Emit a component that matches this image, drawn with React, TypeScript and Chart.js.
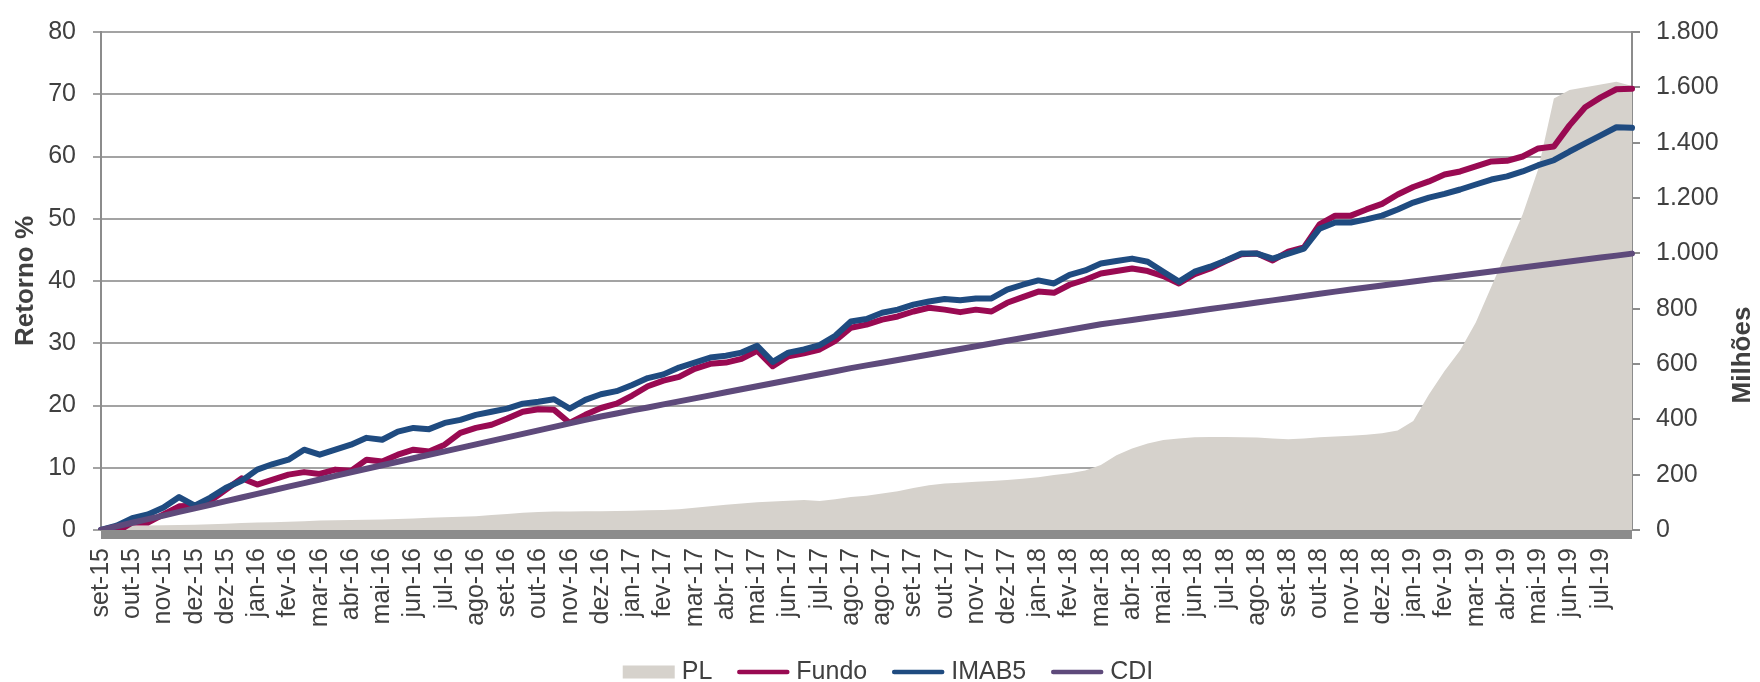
import React, { useEffect, useRef } from 'react';
import { Chart, registerables } from 'chart.js';

Chart.register(...registerables);

// Month tick labels (one per ~21 business days, as in the source)
const monthLabels = [
  'set-15', 'out-15', 'nov-15', 'dez-15', 'dez-15',
  'jan-16', 'fev-16', 'mar-16', 'abr-16', 'mai-16', 'jun-16', 'jul-16', 'ago-16', 'set-16', 'out-16', 'nov-16', 'dez-16',
  'jan-17', 'fev-17', 'mar-17', 'abr-17', 'mai-17', 'jun-17', 'jul-17', 'ago-17', 'ago-17', 'set-17', 'out-17', 'nov-17', 'dez-17',
  'jan-18', 'fev-18', 'mar-18', 'abr-18', 'mai-18', 'jun-18', 'jul-18', 'ago-18', 'set-18', 'out-18', 'nov-18', 'dez-18',
  'jan-19', 'fev-19', 'mar-19', 'abr-19', 'mai-19', 'jun-19', 'jul-19',
];

// Two observations per label interval (99 points)
const fundoValues = [
  0, -0.3, 1.2, 1.2, 2.5, 3.8, 3.9, 4.7, 6.5, 8.3,
  7.3, 8.1, 8.9, 9.3, 9.0, 9.7, 9.5, 11.3, 11.0, 12.1,
  12.9, 12.6, 13.7, 15.6, 16.4, 16.9, 17.9, 19.0, 19.4, 19.3,
  17.2, 18.5, 19.6, 20.3, 21.6, 23.1, 24.0, 24.6, 25.9, 26.7,
  26.9, 27.5, 28.8, 26.3, 27.9, 28.4, 29.0, 30.4, 32.5, 33.0,
  33.8, 34.3, 35.1, 35.7, 35.4, 35.0, 35.4, 35.1, 36.5, 37.4,
  38.3, 38.1, 39.4, 40.2, 41.2, 41.6, 42.0, 41.6, 40.8, 39.6,
  41.1, 42.0, 43.2, 44.3, 44.4, 43.3, 44.7, 45.4, 49.1, 50.5,
  50.5, 51.5, 52.4, 53.9, 55.1, 56.0, 57.1, 57.6, 58.4, 59.2,
  59.3, 60.0, 61.3, 61.6, 65.0, 67.9, 69.5, 70.8, 70.9,
];

const imab5Values = [
  0, 0.7, 1.9, 2.5, 3.6, 5.3, 3.9, 5.2, 6.8, 7.9,
  9.7, 10.6, 11.3, 12.9, 12.1, 12.9, 13.7, 14.8, 14.5, 15.8,
  16.4, 16.2, 17.2, 17.7, 18.5, 19.0, 19.5, 20.3, 20.6, 21.0,
  19.5, 20.9, 21.8, 22.3, 23.3, 24.4, 25.0, 26.1, 26.9, 27.7,
  28.0, 28.5, 29.6, 27.0, 28.5, 29.0, 29.7, 31.2, 33.5, 33.9,
  34.9, 35.4, 36.2, 36.7, 37.1, 36.9, 37.2, 37.2, 38.6, 39.4,
  40.1, 39.6, 41.0, 41.7, 42.8, 43.2, 43.6, 43.1, 41.5, 39.9,
  41.5, 42.3, 43.3, 44.4, 44.4, 43.6, 44.4, 45.2, 48.4, 49.4,
  49.4, 49.9, 50.5, 51.5, 52.6, 53.4, 54.0, 54.7, 55.5, 56.3,
  56.8, 57.6, 58.6, 59.4, 60.8, 62.1, 63.4, 64.7, 64.6,
];

const cdiValues = [
  0, 0.58, 1.16, 1.74, 2.32, 2.9, 3.48, 4.06, 4.64, 5.22,
  5.8, 6.38, 6.96, 7.54, 8.12, 8.7, 9.28, 9.84, 10.4, 10.96,
  11.52, 12.08, 12.64, 13.2, 13.76, 14.32, 14.88, 15.44, 16.0, 16.56,
  17.12, 17.68, 18.24, 18.72, 19.21, 19.69, 20.18, 20.66, 21.15, 21.63,
  22.12, 22.6, 23.09, 23.57, 24.06, 24.54, 25.03, 25.51, 26.0, 26.44,
  26.88, 27.32, 27.76, 28.2, 28.64, 29.08, 29.52, 29.96, 30.4, 30.84,
  31.28, 31.72, 32.16, 32.6, 33.04, 33.39, 33.74, 34.09, 34.44, 34.79,
  35.14, 35.49, 35.84, 36.19, 36.54, 36.89, 37.24, 37.59, 37.94, 38.29,
  38.64, 38.96, 39.28, 39.6, 39.92, 40.24, 40.56, 40.88, 41.2, 41.52,
  41.84, 42.16, 42.48, 42.8, 43.12, 43.44, 43.76, 44.08, 44.4,
];

// PL in millions (right axis)
const plValues = [
  3, 4, 16, 16, 17, 18, 19, 21, 23, 25,
  27, 28, 30, 32, 34, 35, 36, 37, 38, 40,
  42, 44, 46, 48, 50, 54, 58, 62, 65, 67,
  67, 68, 68, 69, 70, 71, 72, 75, 80, 86,
  91, 96, 100, 103, 106, 108, 105, 111, 119, 124,
  132, 140, 152, 162, 168, 171, 174, 177, 181, 185,
  191, 199, 205, 215, 235, 270, 295, 313, 325, 331,
  335, 336, 336, 335, 334, 331, 328, 331, 335, 338,
  341, 344, 350, 360, 394, 490, 575, 650, 750, 880,
  1010, 1140, 1305, 1560, 1590, 1600, 1610, 1620, 1605,
];

const FONT = "'Liberation Sans', Arial, Helvetica, sans-serif";
const TEXT = '#404040';
const GRID = '#a3a3a3';
const AXIS = '#8c8c8c';
const COLORS = { PL: '#d6d2cc', Fundo: '#990a52', IMAB5: '#1f4b80', CDI: '#5e4a7b' };

const fmtThousands = (v: number) => String(v).replace(/\B(?=(\d{3})+(?!\d))/g, '.');

const bandPlugin = {
  id: 'axisBand',
  beforeDatasetsDraw(chart: any) {
    const { ctx, chartArea } = chart;
    ctx.save();
    ctx.fillStyle = AXIS;
    ctx.fillRect(chartArea.left, chartArea.bottom, chartArea.right - chartArea.left, 9);
    ctx.restore();
  },
};

const textPlugin = {
  id: 'titlesLegend',
  afterDraw(chart: any) {
    const { ctx, chartArea } = chart;
    ctx.save();
    ctx.fillStyle = TEXT;
    ctx.font = `bold 26px ${FONT}`;
    ctx.textAlign = 'center';
    ctx.textBaseline = 'middle';
    // left title
    ctx.save();
    ctx.translate(26, (chartArea.top + chartArea.bottom) / 2);
    ctx.rotate(-Math.PI / 2);
    ctx.fillText('Retorno %', 0, 0);
    ctx.restore();
    // right title
    ctx.save();
    ctx.translate(chartArea.right + 111, chartArea.top + 323);
    ctx.rotate(-Math.PI / 2);
    ctx.fillText('Milhões', 0, 0);
    ctx.restore();

    // legend
    ctx.font = `25px ${FONT}`;
    ctx.textAlign = 'left';
    const symW = 52;
    const gap = 7;
    const spacing = 25;
    const items = chart.data.datasets.map((ds: any) => ({
      text: ds.label,
      fill: !!ds.fill,
      color: ds.fill ? ds.backgroundColor : ds.borderColor,
      w: symW + gap + ctx.measureText(ds.label).width,
    }));
    const total = items.reduce((a: number, it: any) => a + it.w, 0) + spacing * (items.length - 1);
    let x = 888 - total / 2;
    const y = 672;
    items.forEach((it: any) => {
      if (it.fill) {
        ctx.fillStyle = it.color;
        ctx.fillRect(x, y - 6.5, symW, 13);
      } else {
        ctx.strokeStyle = it.color;
        ctx.lineWidth = 4.5;
        ctx.lineCap = 'round';
        ctx.beginPath();
        ctx.moveTo(x + 2, y);
        ctx.lineTo(x + symW - 2, y);
        ctx.stroke();
      }
      ctx.fillStyle = TEXT;
      ctx.fillText(it.text, x + symW + gap, y);
      x += it.w + spacing;
    });
    ctx.restore();
  },
};

export default function App() {
  const ref = useRef<HTMLCanvasElement>(null);

  useEffect(() => {
    if (!ref.current) return;
    const categories = fundoValues.map((_, i) => (i % 2 === 0 && monthLabels[i / 2] ? monthLabels[i / 2] : ''));
    const lineDs = (label: string, data: number[], color: string, order: number, width: number) => ({
      label,
      data,
      yAxisID: 'y',
      borderColor: color,
      backgroundColor: color,
      borderWidth: width,
      pointRadius: 0,
      fill: false,
      tension: 0,
      borderCapStyle: 'round',
      borderJoinStyle: 'round',
      order,
    });
    const chart = new Chart(ref.current, {
      type: 'line',
      data: {
        labels: categories,
        datasets: [
          {
            label: 'PL',
            data: plValues,
            yAxisID: 'y1',
            fill: 'origin',
            backgroundColor: COLORS.PL,
            borderColor: COLORS.PL,
            borderWidth: 0,
            pointRadius: 0,
            tension: 0,
            order: 3,
          },
          lineDs('Fundo', fundoValues, COLORS.Fundo, 2, 6),
          lineDs('IMAB5', imab5Values, COLORS.IMAB5, 1, 6),
          lineDs('CDI', cdiValues, COLORS.CDI, 0, 6),
        ] as any,
      },
      options: {
        responsive: true,
        maintainAspectRatio: false,
        animation: false,
        layout: { padding: { top: 10, left: 0, right: 0, bottom: 0 } },
        plugins: { legend: { display: false }, tooltip: { enabled: false } },
        scales: {
          x: {
            type: 'category',
            offset: false,
            grid: { display: false, drawTicks: false },
            border: { display: false },
            ticks: {
              autoSkip: false,
              minRotation: 90,
              maxRotation: 90,
              padding: 18,
              color: TEXT,
              font: { family: FONT, size: 25 },
            },
            afterFit: (s: any) => { s.height = 152; },
          },
          y: {
            position: 'left',
            min: 0,
            max: 80,
            ticks: { stepSize: 10, padding: 17, color: TEXT, font: { family: FONT, size: 25 } },
            grid: { color: GRID, lineWidth: 2, drawTicks: true, tickLength: 8 },
            border: { display: true, color: AXIS, width: 2 },
            afterFit: (s: any) => { s.width = 101; },
          },
          y1: {
            position: 'right',
            min: 0,
            max: 1800,
            ticks: {
              stepSize: 200,
              padding: 16,
              color: TEXT,
              font: { family: FONT, size: 25 },
              callback: (v: any) => fmtThousands(Number(v)),
            },
            grid: { drawOnChartArea: false, color: AXIS, lineWidth: 2, drawTicks: true, tickLength: 8 },
            border: { display: true, color: AXIS, width: 2 },
            afterFit: (s: any) => { s.width = 128; },
          },
        },
      } as any,
      plugins: [bandPlugin, textPlugin],
    });
    return () => chart.destroy();
  }, []);

  return (
    <div style={{ position: 'fixed', left: 0, top: 0, width: 1760, height: 682, background: '#ffffff' }}>
      <canvas ref={ref} />
    </div>
  );
}
